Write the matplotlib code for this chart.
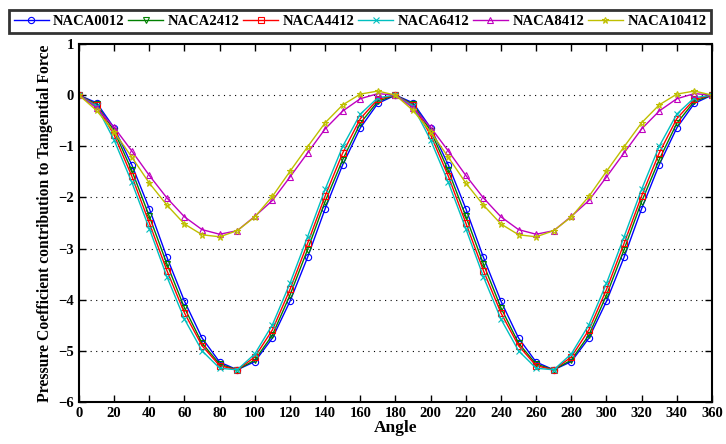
import matplotlib
matplotlib.use("Agg")
import matplotlib.pyplot as plt
import numpy as np

plt.rcParams['font.family'] = ['Liberation Serif', 'DejaVu Serif']
plt.rcParams['font.weight'] = 'bold'

half = [0, 10, 20, 30, 40, 50, 60, 70, 80, 90, 100, 110, 120, 130, 140, 150, 160, 170]
angles = list(range(0, 361, 10))

naca0012_h = [0, -0.15, -0.64, -1.36, -2.22, -3.17, -4.03, -4.75, -5.22, -5.37, -5.21, -4.75, -4.03, -3.17, -2.22, -1.36, -0.64, -0.16]
naca2412_h = [0, -0.18, -0.70, -1.47, -2.37, -3.30, -4.16, -4.85, -5.26, -5.37, -5.18, -4.69, -3.91, -3.02, -2.08, -1.26, -0.55, -0.12]
naca4412_h = [0, -0.20, -0.78, -1.58, -2.50, -3.43, -4.26, -4.90, -5.29, -5.37, -5.12, -4.59, -3.80, -2.90, -1.97, -1.13, -0.46, -0.08]
naca6412_h = [0, -0.22, -0.88, -1.70, -2.61, -3.55, -4.38, -5.00, -5.34, -5.37, -5.06, -4.49, -3.68, -2.77, -1.84, -1.00, -0.37, -0.05]
naca8412_h = [0, -0.25, -0.63, -1.09, -1.57, -2.01, -2.38, -2.63, -2.72, -2.65, -2.37, -2.06, -1.60, -1.13, -0.66, -0.31, -0.07, 0.03]
naca10412_h = [0, -0.30, -0.72, -1.21, -1.72, -2.15, -2.52, -2.73, -2.77, -2.65, -2.38, -1.98, -1.49, -1.01, -0.54, -0.19, 0.02, 0.08]

def full(h):
    return h + h + [h[0]]

series = [
    ("NACA0012", full(naca0012_h), 'blue', 'o', 'none'),
    ("NACA2412", full(naca2412_h), 'green', 'v', 'none'),
    ("NACA4412", full(naca4412_h), 'red', 's', 'none'),
    ("NACA6412", full(naca6412_h), 'c', 'x', 'c'),
    ("NACA8412", full(naca8412_h), 'm', '^', 'none'),
    ("NACA10412", full(naca10412_h), 'y', '*', 'none'),
]

fig = plt.figure(figsize=(7.26, 4.44), dpi=100)
ax = fig.add_axes([0.1088, 0.0946, 0.8719, 0.8063])

for name, vals, col, mk, fc in series:
    ax.plot(angles, vals, color=col, marker=mk, markerfacecolor=fc,
            markeredgecolor=col, markersize=4.5, linewidth=1.0,
            markeredgewidth=0.8, label=name)

ax.set_xlim(0, 360)
ax.set_ylim(-6, 1)
ax.set_xticks(range(0, 361, 20))
ax.set_yticks(range(-6, 2, 1))
ax.tick_params(direction='in', top=True, right=True, labelsize=10.5, length=5, width=1)
for lab in ax.get_xticklabels() + ax.get_yticklabels():
    lab.set_fontweight('bold')
for y in range(-5, 1):
    ax.axhline(y, color='black', linestyle=(0, (1, 4)), linewidth=0.8, zorder=0)
for s in ax.spines.values():
    s.set_linewidth(1.5)

ax.set_xlabel("Angle", fontsize=12.5, fontweight='bold', labelpad=0)
ax.set_ylabel("Pressure Coefficient contribution to Tangential Force", fontsize=11.3, fontweight='bold', labelpad=4)

leg = fig.legend(loc='lower left', bbox_to_anchor=(0.012, 0.925, 0.968, 0.062), mode='expand',
                 ncol=6, frameon=True, fancybox=False, prop={'weight': 'bold', 'size': 10.5},
                 handlelength=2.4, handletextpad=0.3, columnspacing=1.0, borderaxespad=0,
                 borderpad=0.35)
leg.get_frame().set_edgecolor('black')
leg.get_frame().set_linewidth(2)

fig.savefig("out.png", dpi=100)
